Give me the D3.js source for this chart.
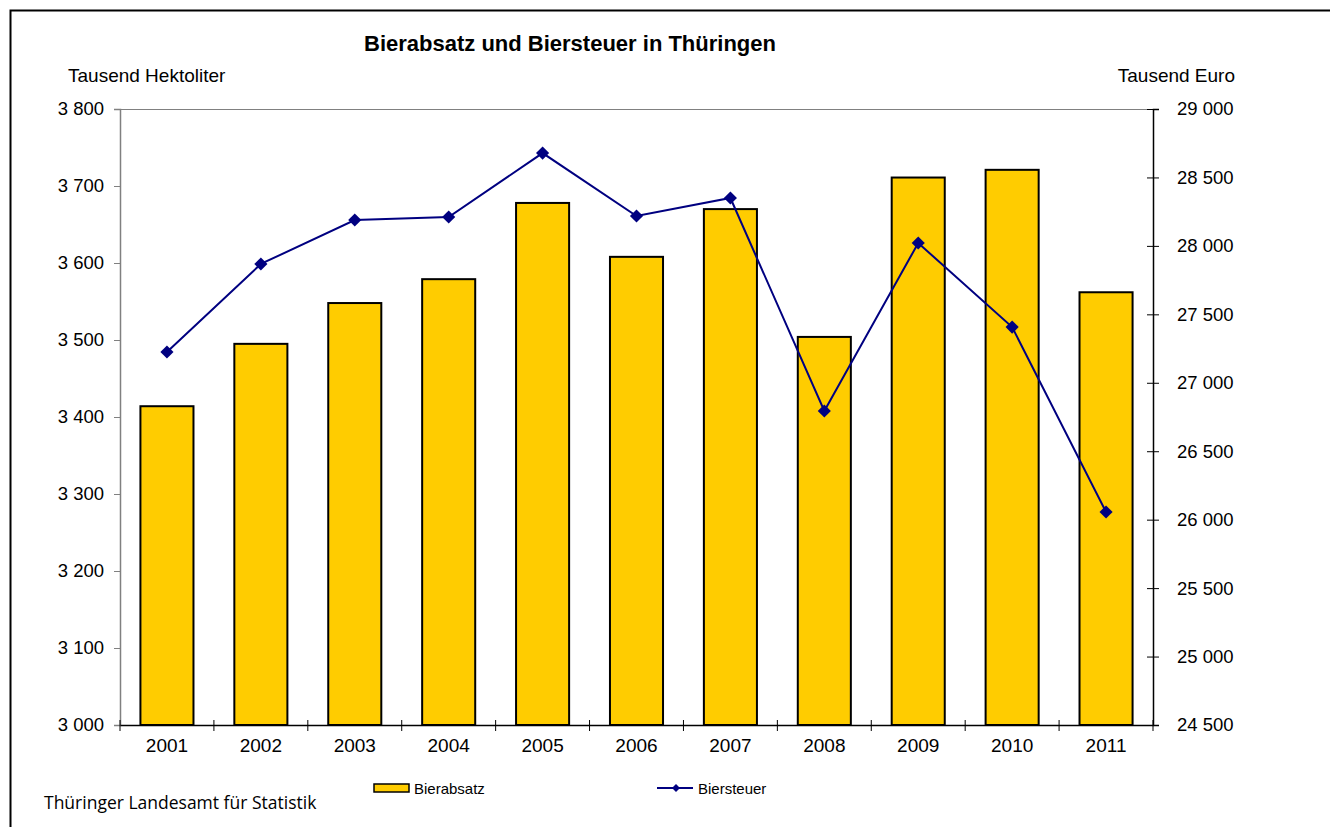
<!DOCTYPE html>
<html>
<head>
<meta charset="utf-8">
<script src="https://cdn.jsdelivr.net/npm/d3@7"></script>
<style>
  body { margin: 0; background: #fff; }
  svg { display: block; }
</style>
</head>
<body>
<div id="vis"></div>
<script>
const FRAME_WIDTH = 1330;
const FRAME_HEIGHT = 827;
const MARGINS = {left: 120, right: 177, top: 109, bottom: 102};
const VIS_WIDTH = FRAME_WIDTH - MARGINS.left - MARGINS.right;
const VIS_HEIGHT = FRAME_HEIGHT - MARGINS.top - MARGINS.bottom;

// data
const years = ["2001", "2002", "2003", "2004", "2005", "2006", "2007", "2008", "2009", "2010", "2011"];
const bierabsatz = [3414, 3495, 3548, 3579, 3678, 3608, 3670, 3504, 3711, 3721, 3562];
const biersteuer = [27225, 27868, 28189, 28211, 28678, 28218, 28350, 26794, 28021, 27407, 26056];
const leftTicks = [3000, 3100, 3200, 3300, 3400, 3500, 3600, 3700, 3800];
const rightTicks = [24500, 25000, 25500, 26000, 26500, 27000, 27500, 28000, 28500, 29000];

const FONT = "'Liberation Sans', Arial, sans-serif";
const fmt = v => d3.format(",")(v).replace(",", " ");

const FRAME = d3.select("#vis")
  .append("svg")
    .attr("width", FRAME_WIDTH)
    .attr("height", FRAME_HEIGHT);

// outer border
FRAME.append("rect")
  .attr("x", 10.5).attr("y", 10.5)
  .attr("width", FRAME_WIDTH + 20).attr("height", FRAME_HEIGHT + 20)
  .attr("fill", "none")
  .attr("stroke", "#000")
  .attr("stroke-width", 2);

const X_SCALE = d3.scaleBand()
  .domain(years)
  .range([0, VIS_WIDTH])
  .paddingInner(0.435)
  .paddingOuter(0.2175);

const X_BAND = d3.scaleBand().domain(years).range([0, VIS_WIDTH]);

const Y_LEFT = d3.scaleLinear().domain([3000, 3800]).range([VIS_HEIGHT, 0]);
const Y_RIGHT = d3.scaleLinear().domain([24500, 29000]).range([VIS_HEIGHT, 0]);

const g = FRAME.append("g")
  .attr("transform", "translate(" + MARGINS.left + "," + MARGINS.top + ")");

// top frame line
g.append("line")
  .attr("x1", 0).attr("x2", VIS_WIDTH)
  .attr("y1", 0.5).attr("y2", 0.5)
  .attr("stroke", "#808080");

// bars
g.selectAll("rect.bar")
  .data(years)
  .enter()
  .append("rect")
    .attr("class", "bar")
    .attr("x", (d) => X_SCALE(d))
    .attr("y", (d, i) => Y_LEFT(bierabsatz[i]))
    .attr("width", X_SCALE.bandwidth())
    .attr("height", (d, i) => VIS_HEIGHT - Y_LEFT(bierabsatz[i]))
    .attr("fill", "#ffcc00")
    .attr("stroke", "#000")
    .attr("stroke-width", 2);

// line
const lineX = (d) => X_BAND(d) + X_BAND.bandwidth() / 2;
const line = d3.line()
  .x((d, i) => lineX(years[i]))
  .y((d) => Y_RIGHT(d));

g.append("path")
  .datum(biersteuer)
  .attr("d", line)
  .attr("fill", "none")
  .attr("stroke", "#000080")
  .attr("stroke-width", 2);

g.selectAll("path.marker")
  .data(biersteuer)
  .enter()
  .append("path")
    .attr("class", "marker")
    .attr("d", d3.symbol(d3.symbolDiamond2, 110))
    .attr("transform", (d, i) => "translate(" + lineX(years[i]) + "," + Y_RIGHT(d) + ")")
    .attr("fill", "#000080");

// axes
const leftAxis = g.append("g")
  .call(d3.axisLeft(Y_LEFT).tickValues(leftTicks).tickSize(6).tickPadding(10).tickFormat(fmt));
leftAxis.select(".domain").attr("stroke", "#808080").attr("stroke-width", 1.5);
leftAxis.selectAll(".tick line").attr("stroke", "#808080");

const rightAxis = g.append("g")
  .attr("transform", "translate(" + VIS_WIDTH + ",0)")
  .call(d3.axisRight(Y_RIGHT).tickValues(rightTicks).tickSize(6).tickPadding(18).tickFormat(fmt));
rightAxis.select(".domain").attr("stroke", "#000").attr("stroke-width", 1.5);
rightAxis.selectAll(".tick line").attr("x1", -6).attr("stroke", "#000");

const bottomAxis = g.append("g")
  .attr("transform", "translate(0," + VIS_HEIGHT + ")")
  .call(d3.axisBottom(X_BAND).tickSize(0).tickPadding(14));
bottomAxis.select(".domain").attr("stroke", "#000").attr("stroke-width", 1.5);

// category boundary ticks
g.selectAll("line.xtick")
  .data(years.concat(["end"]))
  .enter()
  .append("line")
    .attr("class", "xtick")
    .attr("x1", (d, i) => i < years.length ? X_BAND(d) : VIS_WIDTH)
    .attr("x2", (d, i) => i < years.length ? X_BAND(d) : VIS_WIDTH)
    .attr("y1", VIS_HEIGHT - 5)
    .attr("y2", VIS_HEIGHT + 6)
    .attr("stroke", "#000");

FRAME.selectAll(".tick text")
  .attr("font-family", FONT)
  .attr("font-size", "18.5px")
  .attr("fill", "#000");
bottomAxis.selectAll(".tick text").attr("font-size", "19px");

// title and axis labels
FRAME.append("text")
  .attr("x", 570).attr("y", 51)
  .attr("text-anchor", "middle")
  .style("font-family", FONT)
  .style("font-size", "22px")
  .style("font-weight", "bold")
  .text("Bierabsatz und Biersteuer in Thüringen");

FRAME.append("text")
  .attr("x", 68).attr("y", 82)
  .style("font-family", FONT)
  .style("font-size", "19px")
  .text("Tausend Hektoliter");

FRAME.append("text")
  .attr("x", 1235).attr("y", 82)
  .attr("text-anchor", "end")
  .style("font-family", FONT)
  .style("font-size", "19px")
  .text("Tausend Euro");

// legend
const legend = FRAME.append("g");
legend.append("rect")
  .attr("x", 374).attr("y", 784)
  .attr("width", 35).attr("height", 8)
  .attr("fill", "#ffcc00")
  .attr("stroke", "#000")
  .attr("stroke-width", 1.5);
legend.append("text")
  .attr("x", 414).attr("y", 794)
  .style("font-family", FONT)
  .style("font-size", "15px")
  .text("Bierabsatz");

legend.append("line")
  .attr("x1", 657).attr("x2", 693)
  .attr("y1", 788).attr("y2", 788)
  .attr("stroke", "#000080")
  .attr("stroke-width", 2);
legend.append("path")
  .attr("d", d3.symbol(d3.symbolDiamond2, 40))
  .attr("transform", "translate(676,788)")
  .attr("fill", "#000080");
legend.append("text")
  .attr("x", 698).attr("y", 794)
  .style("font-family", FONT)
  .style("font-size", "15px")
  .text("Biersteuer");

// source
FRAME.append("text")
  .attr("x", 44).attr("y", 809)
  .style("font-family", "'Open Sans', 'Noto Sans', sans-serif")
  .style("font-size", "17.5px")
  .text("Thüringer Landesamt für Statistik");
</script>
</body>
</html>
